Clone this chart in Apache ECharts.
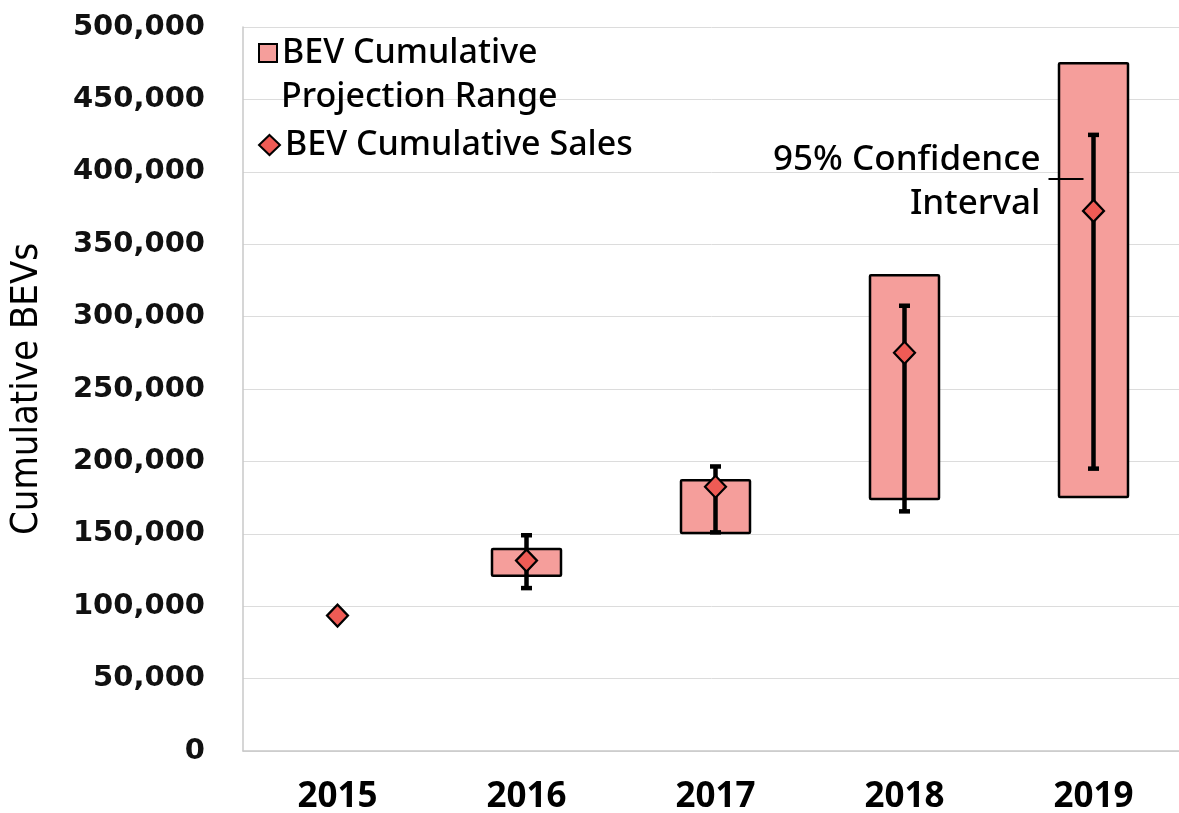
<!DOCTYPE html>
<html>
<head>
<meta charset="utf-8">
<script src="https://cdn.jsdelivr.net/npm/echarts@6/dist/echarts.min.js"></script>
<style>
html,body{margin:0;padding:0;background:#fff;}
#chart{width:1179px;height:813px;}
</style>
</head>
<body>
<div id="chart"></div>
<script>
// ---- data ----
var years = ['2015', '2016', '2017', '2018', '2019'];
var rangeLow  = [null, 121000, 150500, 174000, 175500];
var rangeHigh = [null, 139500, 187000, 328500, 475000];
var sales     = [93500, 131500, 182500, 275000, 373000];
var ciLow     = [null, 112500, 151000, 165500, 195000];
var ciHigh    = [null, 149000, 196500, 307500, 425500];
var yTicks    = [0, 50000, 100000, 150000, 200000, 250000, 300000, 350000, 400000, 450000, 500000];
var ciNoteIndex = 4;
var ciNoteValue = 395000;
var ciNoteText = '95% Confidence\nInterval';
var rangeName = 'BEV Cumulative Projection Range';
var salesName = 'BEV Cumulative Sales';

var chart = echarts.init(document.getElementById('chart'), null, {renderer: 'canvas'});

var rangeData = years.map(function (y, i) { return [i, rangeLow[i], rangeHigh[i]]; })
  .filter(function (d) { return d[1] != null; });
var ciData = years.map(function (y, i) { return [i, ciLow[i], ciHigh[i]]; })
  .filter(function (d) { return d[1] != null; });

var txtFont = 'Noto Sans';
var legendText = {fontFamily: txtFont, fontSize: 34, fontWeight: 500, color: '#000'};

var option = {
  animation: false,
  backgroundColor: '#ffffff',
  grid: {left: 243, top: 27, height: 724, width: 945, containLabel: false, outerBoundsMode: 'none'},
  legend: [{
    left: 253, top: 31,
    itemWidth: 18, itemHeight: 18, itemGap: 14,
    data: [{name: rangeName, icon: 'rect'}],
    formatter: function () { return 'BEV Cumulative'; },
    textStyle: legendText,
    itemStyle: {borderColor: '#000', borderWidth: 2}
  }, {
    left: 253, top: 75,
    itemWidth: 18, itemHeight: 18, itemGap: 14,
    data: [{name: rangeName, icon: 'rect'}],
    formatter: function () { return 'Projection Range'; },
    textStyle: legendText,
    itemStyle: {opacity: 0, borderWidth: 0}
  }, {
    left: 253, top: 123,
    itemWidth: 21, itemHeight: 20, itemGap: 12,
    data: [{name: salesName, icon: 'diamond'}],
    textStyle: legendText,
    itemStyle: {borderColor: '#000', borderWidth: 2}
  }],
  xAxis: {
    type: 'category',
    data: years,
    axisLine: {show: true, lineStyle: {color: '#c8c8c8', width: 1.5}},
    axisTick: {show: false},
    axisLabel: {fontFamily: txtFont, fontWeight: 700, fontSize: 35, color: '#000', margin: 29}
  },
  yAxis: {
    type: 'value',
    min: 0, max: 500000, interval: 50000,
    name: 'Cumulative BEVs',
    nameLocation: 'middle',
    nameGap: 197,
    nameRotate: 90,
    nameTextStyle: {fontFamily: 'DejaVu Sans Condensed', fontSize: 38, fontWeight: 500, color: '#000'},
    axisLine: {show: true, lineStyle: {color: '#c8c8c8', width: 1.5}},
    axisTick: {show: false},
    splitLine: {lineStyle: {color: '#dcdcdc', width: 1}},
    axisLabel: {
      fontFamily: 'DejaVu Sans', fontWeight: 'bold', fontSize: 29, color: '#111', margin: 38,
      formatter: function (v) { return yTicks.indexOf(v) >= 0 ? v.toLocaleString('en-US') : ''; }
    }
  },
  series: [{
    name: rangeName,
    type: 'custom',
    z: 2,
    itemStyle: {color: '#F59E9B', borderColor: '#000', borderWidth: 2},
    renderItem: function (params, api) {
      var x = api.value(0);
      var p1 = api.coord([x, api.value(1)]);
      var p2 = api.coord([x, api.value(2)]);
      var w = api.size([1, 0])[0] * 0.365;
      return {
        type: 'rect',
        shape: {x: p1[0] - w / 2, y: p2[1], width: w, height: p1[1] - p2[1], r: 1},
        style: {fill: '#F59E9B', stroke: '#000', lineWidth: 2.5}
      };
    },
    encode: {x: 0, y: [1, 2]},
    data: rangeData
  }, {
    name: 'CI',
    type: 'custom',
    z: 3,
    renderItem: function (params, api) {
      var x = api.value(0);
      var lo = api.coord([x, api.value(1)]);
      var hi = api.coord([x, api.value(2)]);
      var cap = 5.5;
      var st = {stroke: '#000', lineWidth: 4.5};
      return {
        type: 'group',
        children: [
          {type: 'line', shape: {x1: lo[0], y1: lo[1], x2: hi[0], y2: hi[1]}, style: st},
          {type: 'line', shape: {x1: lo[0] - cap, y1: lo[1], x2: lo[0] + cap, y2: lo[1]}, style: st},
          {type: 'line', shape: {x1: hi[0] - cap, y1: hi[1], x2: hi[0] + cap, y2: hi[1]}, style: st}
        ]
      };
    },
    encode: {x: 0, y: [1, 2]},
    data: ciData
  }, {
    name: 'note',
    type: 'custom',
    z: 4,
    renderItem: function (params, api) {
      var p = api.coord([api.value(0), api.value(1)]);
      return {
        type: 'group',
        children: [
          {type: 'line', shape: {x1: p[0] - 45, y1: p[1], x2: p[0] - 10, y2: p[1]}, style: {stroke: '#000', lineWidth: 2}},
          {type: 'text', x: p[0] - 53, y: p[1] + 3,
            style: {text: ciNoteText, fill: '#000', font: '500 35px ' + txtFont, textAlign: 'right', textVerticalAlign: 'middle', lineHeight: 44}}
        ]
      };
    },
    encode: {x: 0, y: 1},
    data: [[ciNoteIndex, ciNoteValue]]
  }, {
    name: salesName,
    type: 'scatter',
    z: 5,
    symbol: 'diamond',
    symbolSize: [21, 22],
    itemStyle: {color: '#EF5B55', borderColor: '#000', borderWidth: 2.2, opacity: 1},
    data: sales
  }]
};
chart.setOption(option);
</script>
</body>
</html>
